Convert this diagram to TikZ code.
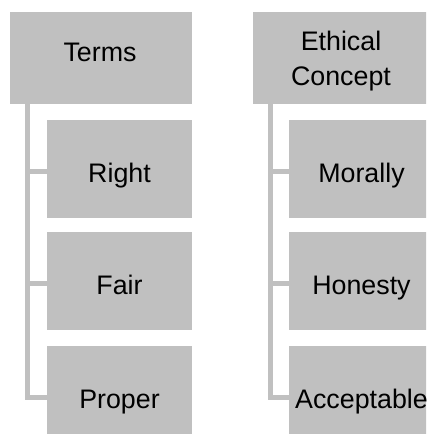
\documentclass[tikz,border=0pt]{standalone}
\usepackage{fontspec}
\setmainfont{Liberation Sans}
\usepackage{tikz}
\usetikzlibrary{positioning,calc}
\definecolor{boxgray}{HTML}{C0C0C0}

\begin{document}
\begin{tikzpicture}[x=1pt, y=1pt,
    every node/.style={font=\fontsize{26.8}{35}\selectfont},
    headbox/.style={fill=boxgray, minimum width=182pt, minimum height=92pt, inner sep=0pt},
    subbox/.style={fill=boxgray, minimum width=145pt, minimum height=98pt, inner sep=0pt,
      text height=33.2pt, text depth=7pt},
    headtext/.style={text height=19.2pt, text depth=0pt, inner sep=0pt},
    link/.style={draw=boxgray, line width=5pt}]
  \clip (0,0) rectangle (426,-434);
  % column heads
  \node[headbox] (h0) at (101,-58) {};
  \node[headbox] (h1) at (344,-58) {};
  \node[headtext] (h0t) at (100,-52) {Terms};
  \node[align=center, inner sep=0pt] (h1t) at (341,-61.5) {Ethical\\Concept};
  % sub items
  \foreach \i/\y/\a/\b in {1/169/Right/Morally, 2/281/Fair/Honesty, 3/395/Proper/Acceptable}{
    \node[subbox] (c0\i) at (119.5,-\y) {\a};
    \node[subbox] (c1\i) at (361.5,-\y) {\b};
  }
  % connectors: head down and across to each item
  \foreach \c in {0,1}{
    \foreach \i in {1,2,3}{
      \draw[link] ([xshift=18pt]h\c.south west) |- ([yshift=-2.5pt]c\c\i.west);
    }
  }
\end{tikzpicture}
\end{document}
